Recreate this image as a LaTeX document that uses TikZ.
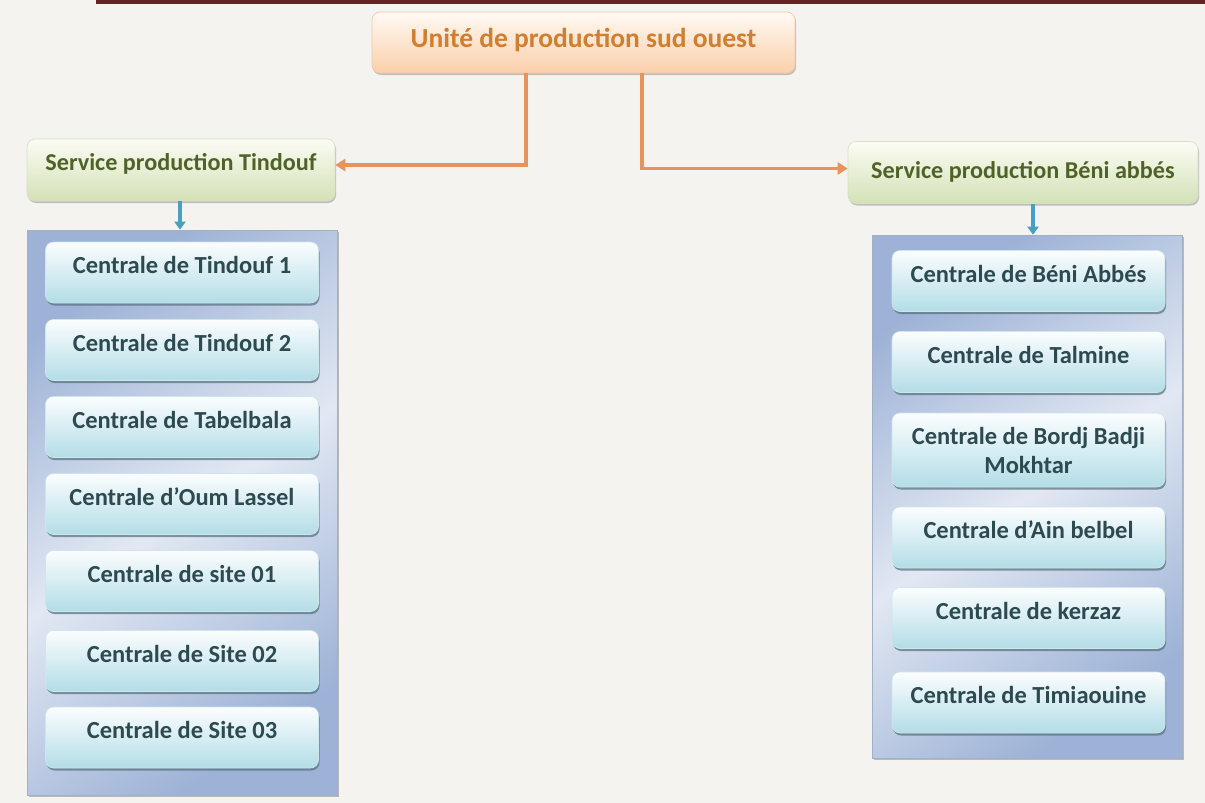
\documentclass[tikz,border=0pt]{standalone}
\usepackage{fontspec}
\setmainfont{Carlito}
\usetikzlibrary{shadows,arrows.meta,calc}

\definecolor{pagebg}{HTML}{F4F3EF}
\definecolor{topbar}{HTML}{662222}
\definecolor{unitTop}{HTML}{FFFAF4}
\definecolor{unitBot}{HTML}{FBCFAA}
\definecolor{unitEdge}{HTML}{EDC7A8}
\definecolor{unitText}{HTML}{D27E2F}
\definecolor{linkOrange}{HTML}{E8935A}
\definecolor{svcTop}{HTML}{FBFCF4}
\definecolor{svcBot}{HTML}{D3E1B6}
\definecolor{svcEdge}{HTML}{D8DFC8}
\definecolor{svcText}{HTML}{4F6228}
\definecolor{linkBlue}{HTML}{4AA0C0}
\definecolor{panelEdge}{HTML}{9DB2D6}
\definecolor{panelMid}{HTML}{E2E8F3}
\definecolor{panelLine}{HTML}{A2B0C6}
\definecolor{itemTop}{HTML}{FBFDFE}
\definecolor{itemBot}{HTML}{B3DDE7}
\definecolor{itemEdge}{HTML}{CDE6EC}
\definecolor{itemText}{HTML}{2D4A50}
\definecolor{shadowCol}{HTML}{55707C}

\tikzset{
  unitbox/.style={rounded corners=8pt, top color=unitTop, bottom color=unitBot,
    draw=unitEdge, line width=0.6pt,
    drop shadow={shadow xshift=1pt, shadow yshift=-2pt, fill=gray, opacity=.45},
    text=unitText, font=\fontsize{27.5}{33}\selectfont\bfseries,
    minimum width=423, minimum height=61, inner sep=0pt,
    text height=20pt, text depth=10pt},
  svcbox/.style={rounded corners=8pt, top color=svcTop, bottom color=svcBot,
    draw=svcEdge, line width=0.6pt,
    drop shadow={shadow xshift=1pt, shadow yshift=-2pt, fill=gray, opacity=.45},
    text=svcText, font=\fontsize{24.2}{29}\selectfont\bfseries,
    minimum height=62, inner sep=0pt},
  panelbox/.style={draw=panelLine, line width=0.6pt,
    left color=panelEdge, right color=panelEdge, middle color=panelMid,
    shading angle=35,
    drop shadow={shadow xshift=1.5pt, shadow yshift=-2pt, fill=gray, opacity=.5},
    minimum width=310, inner sep=0pt},
  itembox/.style={rounded corners=8pt, top color=itemTop, bottom color=itemBot,
    draw=itemEdge, line width=0.6pt,
    drop shadow={shadow xshift=1pt, shadow yshift=-2.5pt, fill=shadowCol, opacity=.7},
    text=itemText, font=\fontsize{24.5}{29}\selectfont\bfseries,
    minimum width=273, minimum height=61, inner sep=0pt,
    text height=18pt, text depth=16pt},
  orangelink/.style={draw=linkOrange, line width=3.5pt,
    -{Triangle[length=10pt,width=12pt]}},
  bluelink/.style={draw=linkBlue, line width=3.6pt,
    -{Triangle[length=8pt,width=11pt]}}
}

\begin{document}
\begin{tikzpicture}[x=1pt,y=-1pt]
\useasboundingbox (0,0) rectangle (1205,803);
\fill[pagebg] (0,0) rectangle (1205,803);
\fill[topbar] (96,0) rectangle (1205,4);

% head of the organisation
\node[unitbox] (unit) at (583.5,42.5) {Unité de production sud ouest};

% the two services
\node[svcbox, minimum width=308, text height=18pt, text depth=18pt]
  (svcL) at (181,170) {Service production Tindouf};
\node[svcbox, minimum width=350, text height=18pt, text depth=7pt]
  (svcR) at (1023,172.5) {Service production Béni abbés};

% links from the unit to the services
\coordinate (tapL) at (526,73);
\coordinate (tapR) at (642,73);
\draw[orangelink] (tapL) |- ([yshift=5pt]svcL.east);
\draw[orangelink] (tapR) |- ([yshift=4pt]svcR.west);

% panels holding the power stations
\node[panelbox, minimum height=565] (panelL) at (182,512.5) {};
\node[panelbox, minimum height=523] (panelR) at (1027,496.5) {};

\draw[bluelink] ([xshift=-1pt]svcL.south) -- ([xshift=-1pt]svcL.south |- panelL.north);
\draw[bluelink] ([xshift=10pt]svcR.south) -- ([xshift=10pt]svcR.south |- panelR.north);

% stations of the Tindouf service
\foreach \cy/\txt [count=\i] in {272.5/Centrale de Tindouf 1,
    350/Centrale de Tindouf 2,
    427/Centrale de Tabelbala,
    504/Centrale d’Oum Lassel,
    581/Centrale de site 01,
    661/Centrale de Site 02,
    737.5/Centrale de Site 03}
  \node[itembox] (L\i) at (182,\cy) {\txt};

% stations of the Béni Abbès service
\node[itembox] (R1) at (1028.5,281) {Centrale de Béni Abbés};
\node[itembox] (R2) at (1028.5,362) {Centrale de Talmine};
\node[itembox, minimum height=74, text height=, text depth=, align=center]
  (R3) at (1028.5,450) {Centrale de Bordj Badji\\Mokhtar};
\node[itembox] (R4) at (1028.5,537.5) {Centrale d’Ain belbel};
\node[itembox] (R5) at (1028.5,618) {Centrale de kerzaz};
\node[itembox] (R6) at (1028.5,702.5) {Centrale de Timiaouine};
\end{tikzpicture}
\end{document}
